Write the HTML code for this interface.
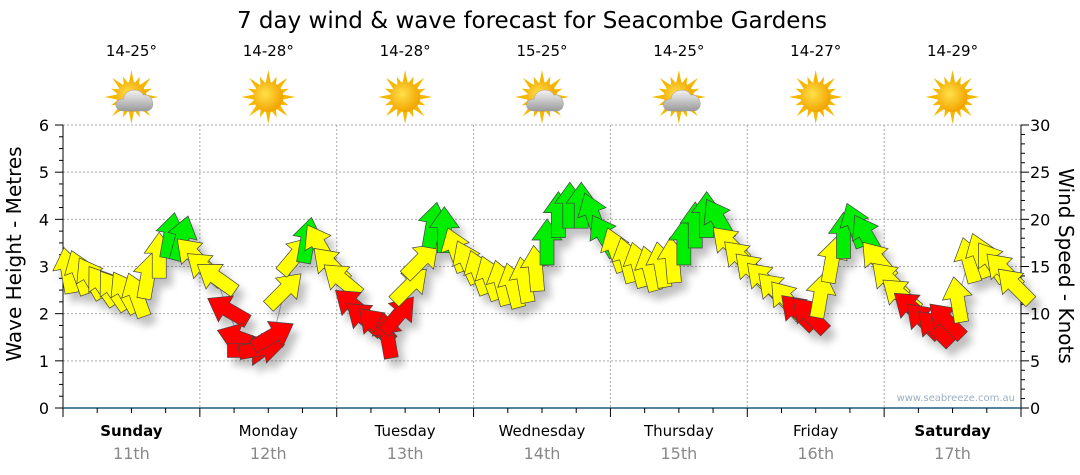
<!DOCTYPE html>
<html><head><meta charset="utf-8"><style>
html,body{margin:0;padding:0;background:#fff;}
svg{display:block;font-family:"DejaVu Sans","Liberation Sans",sans-serif;}
</style></head><body>
<svg id="chart" width="1080" height="475" viewBox="0 0 1080 475">
<defs>
<filter id="sh" x="-50%" y="-50%" width="200%" height="200%"><feGaussianBlur in="SourceAlpha" stdDeviation="4"/><feOffset dx="6" dy="8"/><feComponentTransfer><feFuncA type="linear" slope="0.25"/></feComponentTransfer><feMerge><feMergeNode/><feMergeNode in="SourceGraphic"/></feMerge></filter>
<radialGradient id="sun" cx="40%" cy="40%" r="60%"><stop offset="0" stop-color="#ffe14a"/><stop offset="1" stop-color="#f2a400"/></radialGradient>
<linearGradient id="cloud" x1="0" y1="0" x2="0" y2="1"><stop offset="0" stop-color="#f4f4f4"/><stop offset="1" stop-color="#9a9a9a"/></linearGradient>
</defs>
<text x="532" y="28" text-anchor="middle" font-size="23" fill="#000">7 day wind &amp; wave forecast for Seacombe Gardens</text>
<g id="grid"></g>
<g id="axes"></g>
<g id="icons"></g>
<g id="series"></g>
<text x="1015" y="401" text-anchor="end" font-size="10" fill="#9bb0c4">www.seabreeze.com.au</text>
<text transform="translate(21,254) rotate(-90)" text-anchor="middle" font-size="20" fill="#000">Wave Height - Metres</text>
<text transform="translate(1059,266) rotate(90)" text-anchor="middle" font-size="20" fill="#000">Wind Speed - Knots</text>
</svg>
<script>
const days = ["Sunday","Monday","Tuesday","Wednesday","Thursday","Friday","Saturday"];
const dates = ["11th","12th","13th","14th","15th","16th","17th"];
const temps = ["14-25°","14-28°","14-28°","15-25°","14-25°","14-27°","14-29°"];
const cloudy = [true,false,false,true,true,false,false];
const waveTicks = [0,1,2,3,4,5,6];
const windTicks = [0,5,10,15,20,25,30];
const windKnots = [14.6,14.4,13.8,13,12.5,12.3,12,14,16.2,18.3,18,16.2,
 14.8,13.8,10.4,7.4,6.1,6.3,7.7,12.5,16.2,17.8,17.3,15.2,
 13.6,10.9,9.5,8.8,7.7,9.9,13,15.7,19.4,18.9,16.8,15.5,
 14.4,13.8,13.3,13,13.6,14.8,17.6,20.5,21.5,21.5,20.5,18.3,
 16.8,15.7,15.2,14.8,15.2,15.7,17.6,19.4,20.5,20,17.4,15.9,
 14.6,13.6,12.5,11.5,10.2,9.9,12,15.7,18.3,19.4,18.3,15.7,
 13.6,12,10.6,9.3,8.5,9.3,11.5,15.7,16.2,15.5,14.6,13];
const windDir = [-10,-20,-30,-35,-35,-30,-20,10,0,10,15,-45,
 -50,-55,-60,-70,90,80,60,45,40,10,-30,-45,
 -50,-50,-50,-45,-10,40,45,45,10,0,-20,-25,
 -20,-20,-15,-15,-10,-5,0,0,0,0,-20,-30,
 -20,-15,-15,-15,-10,-5,0,0,0,-30,-45,-45,
 -45,-45,-45,-40,-45,-45,10,10,0,-20,-30,-40,
 -45,-50,-50,-45,-45,-45,-10,-15,-20,-35,-45,-45];

const NS="http://www.w3.org/2000/svg";
const X0=63,X1=1021,Y0=408,Y1=125,DW=(X1-X0)/7;
const yW=m=>Y0-(Y0-Y1)*m/6;
const yK=k=>Y0-(Y0-Y1)*k/30;
const xT=i=>X0+DW*(i/12)+5;
function mk(tag,attrs,parent){const e=document.createElementNS(NS,tag);for(const k in attrs)e.setAttribute(k,attrs[k]);parent.appendChild(e);return e;}
const grid=document.getElementById('grid'),axes=document.getElementById('axes'),icons=document.getElementById('icons'),series=document.getElementById('series');

waveTicks.forEach(m=>{
 if(m>0){const l=mk('line',{x1:X0,x2:X1,y1:yW(m),y2:yW(m),stroke:'#aaa','stroke-dasharray':'2,2'},grid);
 
 }
 const t=mk('text',{x:49,y:yW(m)+6,'text-anchor':'end','font-size':16,fill:'#000'},axes);t.textContent=m;
 
 
 mk('line',{x1:X0-8,x2:X0,y1:yW(m),y2:yW(m),stroke:'#000'},axes);
});
for(let q=0;q<24;q++){if(q%4)mk('line',{x1:X0-4,x2:X0,y1:yW(q/4),y2:yW(q/4),stroke:'#000'},axes);}
windTicks.forEach(k=>{
 const t=mk('text',{x:1030,y:yK(k)+6,'font-size':16,fill:'#000'},axes);t.textContent=k;
 
 
 mk('line',{x1:X1,x2:X1+8,y1:yK(k),y2:yK(k),stroke:'#000'},axes);
});
for(let k=0;k<30;k++){if(k%5)mk('line',{x1:X1,x2:X1+4,y1:yK(k),y2:yK(k),stroke:'#000'},axes);}
for(let d=1;d<7;d++){const l=mk('line',{x1:X0+DW*d,x2:X0+DW*d,y1:Y1,y2:Y0,stroke:'#aaa','stroke-dasharray':'2,2'},grid);
 
 }
mk('line',{x1:X0,x2:X0,y1:Y1,y2:Y0,stroke:'#000'},axes);
mk('line',{x1:X1,x2:X1,y1:Y1,y2:Y0,stroke:'#000'},axes);
mk('line',{x1:X0,x2:X1,y1:Y0,y2:Y0,stroke:'#1d5a80','stroke-width':1.5},axes);
for(let q=0;q<=28;q++){mk('line',{x1:X0+DW*q/4,x2:X0+DW*q/4,y1:Y0,y2:Y0+(q%4?5:9),stroke:'#000'},axes);}

days.forEach((d,i)=>{
 const cx=X0+DW*(i+0.5);
 const t=mk('text',{x:cx,y:436,'text-anchor':'middle','font-size':15,fill:'#000','font-weight':(i==0||i==6)?'bold':'normal'},axes);t.textContent=d;
 
 
 const t2=mk('text',{x:cx,y:459,'text-anchor':'middle','font-size':16,fill:'#888'},axes);t2.textContent=dates[i];
 
 
 const t3=mk('text',{x:cx,y:56,'text-anchor':'middle','font-size':15,fill:'#000'},icons);t3.textContent=temps[i];
 
 
 const g=mk('g',{transform:`translate(${cx},97)`},icons);
 
 
 for(let r=0;r<16;r++){const a=r*22.5,L=r%2?22:27;mk('polygon',{points:`-3,-12 3,-12 0,-${L}`,fill:'#f5b800',transform:`rotate(${a})`},g);}
 mk('circle',{r:15,fill:'url(#sun)'},g);
 if(cloudy[i]){mk('path',{d:'M-8,14 C-18,14 -18,2 -8,2 C-7,-8 8,-10 12,-2 C22,-4 26,14 14,14 Z',fill:'url(#cloud)',stroke:'#999','stroke-width':0.5},g);}
});

let pts=windKnots.map((k,i)=>`${xT(i)},${yK(k)}`).join(' ');
const pl=mk('polyline',{points:pts,fill:'none',stroke:'#aaa','stroke-width':1},series);


const ag=mk('g',{filter:'url(#sh)'},series);
windKnots.forEach((k,i)=>{
 const col=k<11?'#ff0000':(k<17.5?'#ffff00':'#00ee00');
 const p=mk('polygon',{points:'-7,23 7,23 7,-2 15,-2 0,-23 -15,-2 -7,-2',fill:col,stroke:'#444','stroke-width':0.7,transform:`translate(${xT(i)},${yK(k)}) rotate(${windDir[i]})`},ag);
 
 
});
</script>
</body></html>
